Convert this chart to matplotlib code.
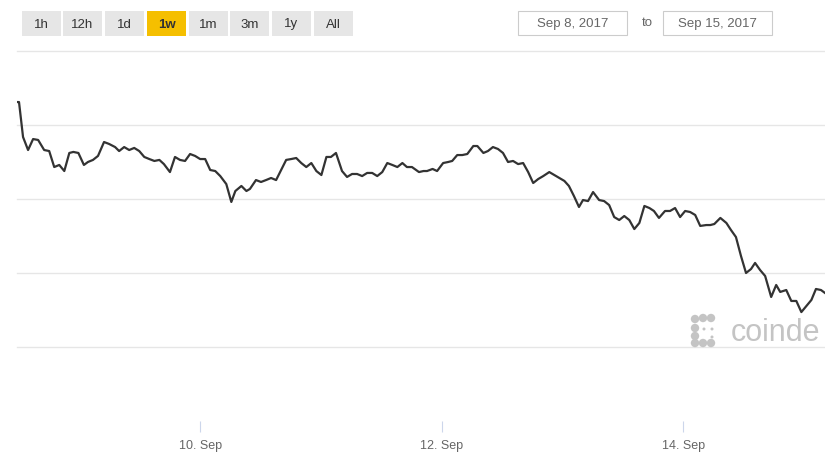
import numpy as np
import matplotlib
matplotlib.use("Agg")
import matplotlib.pyplot as plt
from matplotlib.patches import Rectangle, Circle
from matplotlib.transforms import IdentityTransform

plt.rcParams['font.family'] = ['Liberation Sans', 'DejaVu Sans']

# hours since Sep 8, 2017 00:00 and BPI price (USD)
hours = [11.6, 12.0, 12.8, 13.8, 14.8, 15.8, 17.0, 18.0, 19.0, 20.0,
         21.0, 22.0, 22.8, 23.8, 24.9, 25.7, 26.7, 27.7, 28.9, 29.9,
         31.1, 31.9, 32.9, 33.9, 34.9, 35.9, 36.9, 37.9, 38.9, 39.9,
         40.8, 42.0, 43.0, 44.0, 45.0, 46.0, 47.0, 48.0, 49.0, 50.0,
         51.0, 52.0, 53.2, 54.2, 55.0, 56.2, 57.2, 57.9, 59.1, 60.1,
         61.1, 62.1, 63.1, 64.1, 65.1, 66.1, 67.1, 68.1, 69.1, 70.1,
         71.1, 72.1, 73.1, 74.0, 75.0, 76.2, 77.2, 78.2, 79.2, 80.2,
         81.2, 82.2, 83.2, 84.2, 85.2, 86.2, 87.2, 88.2, 89.1, 90.1,
         91.5, 92.4, 93.1, 94.2, 95.1, 96.3, 97.3, 98.1, 99.1, 100.1,
         101.1, 102.3, 103.1, 104.3, 105.2, 106.2, 107.2, 108.2, 109.2, 110.2,
         111.2, 112.2, 113.2, 114.2, 115.2, 116.2, 117.4, 118.4, 119.4, 120.4,
         121.3, 122.3, 123.3, 124.1, 125.1, 126.1, 127.3, 128.3, 129.3, 130.3,
         131.3, 132.3, 133.3, 134.3, 135.3, 136.3, 137.3, 138.2, 139.2, 140.4,
         141.4, 142.4, 143.4, 144.4, 145.4, 146.4, 147.4, 148.6, 149.4, 150.2,
         151.4, 152.6, 153.5, 154.5, 155.5, 156.5, 157.5, 158.3, 159.3, 160.3,
         161.5, 162.5, 163.3, 164.5, 165.5, 166.5, 167.5, 168.5, 169.5, 170.4,
         171.4, 172.2]
price = [4655, 4655, 4419, 4331, 4405, 4399, 4331, 4324, 4216, 4230,
         4189, 4311, 4318, 4311, 4230, 4250, 4264, 4291, 4385, 4372,
         4351, 4324, 4351, 4331, 4345, 4324, 4284, 4270, 4257, 4264,
         4236, 4182, 4284, 4264, 4257, 4304, 4291, 4270, 4270, 4196,
         4189, 4155, 4101, 3980, 4054, 4088, 4054, 4068, 4128, 4115,
         4128, 4142, 4128, 4196, 4264, 4270, 4277, 4243, 4216, 4243,
         4189, 4162, 4284, 4284, 4311, 4189, 4149, 4169, 4169, 4155,
         4176, 4176, 4155, 4182, 4243, 4230, 4216, 4243, 4216, 4216,
         4182, 4189, 4189, 4203, 4189, 4243, 4250, 4257, 4297, 4297,
         4304, 4358, 4358, 4311, 4324, 4351, 4338, 4311, 4250, 4257,
         4236, 4243, 4182, 4108, 4135, 4155, 4182, 4162, 4142, 4122,
         4088, 4020, 3946, 3993, 3986, 4047, 3993, 3986, 3959, 3878,
         3858, 3885, 3858, 3797, 3838, 3953, 3939, 3919, 3872, 3919,
         3919, 3939, 3878, 3919, 3912, 3892, 3818, 3824, 3824, 3831,
         3872, 3838, 3791, 3743, 3615, 3500, 3527, 3568, 3520, 3480,
         3338, 3419, 3372, 3385, 3311, 3311, 3236, 3277, 3318, 3392,
         3385, 3365]

tick_hours = [48, 96, 144]
tick_labels = ["10. Sep", "12. Sep", "14. Sep"]
grid_values = [3000, 3500, 4000, 4500, 5000]
ranges = ["1h", "12h", "1d", "1w", "1m", "3m", "1y", "All"]
selected = "1w"
date_from = "Sep 8, 2017"
date_to = "Sep 15, 2017"

W, H = 825, 464
fig = plt.figure(figsize=(W / 100, H / 100), dpi=100)


def fx(px):
    return px / W


def fy(py):
    return 1 - py / H


ax = fig.add_axes([fx(17), fy(422), fx(825 - 17), (422 - 52) / H])
ax.plot(hours, price, color="#333333", lw=1.6, solid_joinstyle="round", zorder=3)
ax.set_xlim(11.6, 172.2)
ax.set_ylim(2500, 5000)
ax.set_yticks(grid_values)
ax.set_yticklabels([])
ax.tick_params(axis="y", length=0)
ax.yaxis.grid(True, color="#e6e6e6", lw=1)
ax.set_xticks(tick_hours)
ax.set_xticklabels(tick_labels, color="#666666", fontsize=9)
ax.tick_params(axis="x", length=8, color="#ccd6eb", pad=5)
for s in ax.spines.values():
    s.set_visible(False)
ax.set_axisbelow(True)
for gl in ax.get_ygridlines():
    gl.set_clip_on(False)

# range buttons
bx = [22, 63, 105, 147, 189, 230, 272, 314]
for x0, lab in zip(bx, ranges):
    sel = lab == selected
    fig.patches.append(Rectangle((fx(x0), fy(37)), fx(39), 25 / H,
                                 transform=fig.transFigure,
                                 facecolor="#f5bf00" if sel else "#e6e6e6",
                                 edgecolor="none"))
    fig.text(fx(x0 + 19.5), fy(24.5), lab, ha="center", va="center",
             fontsize=9.5, color="#333333", fontweight="bold" if sel else "normal")

# date inputs
for x0, lab in [(518, date_from), (663, date_to)]:
    fig.patches.append(Rectangle((fx(x0), fy(36)), fx(109), 24 / H,
                                 transform=fig.transFigure, facecolor="white",
                                 edgecolor="#cccccc", lw=0.8))
    fig.text(fx(x0 + 54.5), fy(23.5), lab, ha="center", va="center",
             fontsize=9.5, color="#666666")
fig.text(fx(647), fy(23.5), "to", ha="center", va="center",
         fontsize=9.5, color="#666666")

# watermark (the screenshot shows only the start of "coindesk")
fig.text(fx(731), fy(341), "coinde", ha="left", va="baseline",
         fontsize=22, color="#c4c4c4")
big = [(695, 320), (703, 319), (711, 319), (695, 329), (695, 337),
       (695, 344), (703, 344), (711, 344)]
small = [(704, 330), (712, 330), (712, 338)]
for (px, py) in big:
    fig.patches.append(Circle((px, H - py), 4.2, transform=IdentityTransform(),
                              facecolor="#c4c4c4", edgecolor="none"))
for (px, py) in small:
    fig.patches.append(Circle((px, H - py), 1.5, transform=IdentityTransform(),
                              facecolor="#c4c4c4", edgecolor="none"))

fig.savefig("out.png", dpi=100)
